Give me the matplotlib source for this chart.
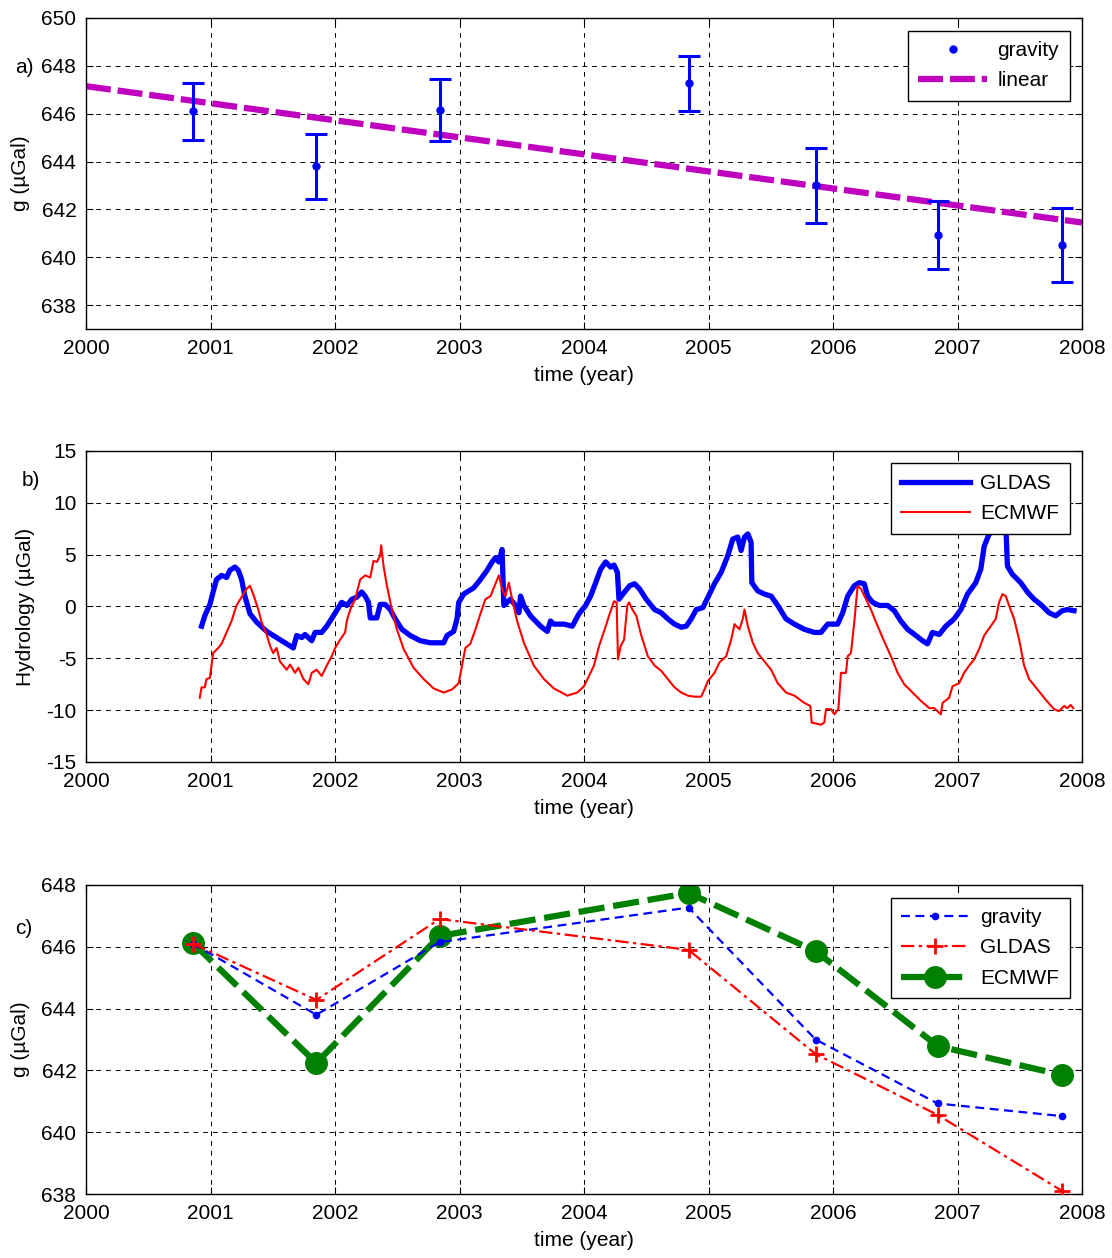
import matplotlib
matplotlib.use("Agg")
import matplotlib.pyplot as plt
import numpy as np

plt.rcParams['font.family'] = ['Liberation Sans', 'DejaVu Sans']
plt.rcParams['font.size'] = 15
plt.rcParams['axes.unicode_minus'] = False

# ---------------- data ----------------
survey_years = [2000.86, 2001.85, 2002.84, 2004.84, 2005.86, 2006.84, 2007.84]
gravity = [646.1, 643.8, 646.15, 647.27, 643.0, 640.93, 640.52]
gravity_err = [1.2, 1.35, 1.3, 1.15, 1.55, 1.42, 1.55]

linear_years = [2000.0, 2008.0]
linear_values = [647.15, 641.45]

gldas_corr = [646.1, 644.28, 646.9, 645.9, 642.53, 640.56, 638.1]
ecmwf_corr = [646.12, 642.24, 646.35, 647.74, 645.86, 642.79, 641.85]

gldas_t = [2000.928, 2000.954, 2000.995, 2001.021, 2001.048, 2001.089, 2001.129, 2001.156, 2001.196, 2001.223,
           2001.250, 2001.276, 2001.317, 2001.370, 2001.451, 2001.531, 2001.612, 2001.665, 2001.692, 2001.733,
           2001.759, 2001.813, 2001.840, 2001.893, 2001.934, 2001.987, 2002.028, 2002.054, 2002.095, 2002.135,
           2002.175, 2002.215, 2002.242, 2002.269, 2002.283, 2002.336, 2002.363, 2002.403, 2002.444, 2002.484,
           2002.537, 2002.604, 2002.685, 2002.765, 2002.873, 2002.900, 2002.953, 2002.980, 2002.994, 2003.034,
           2003.114, 2003.168, 2003.222, 2003.262, 2003.289, 2003.316, 2003.342, 2003.356, 2003.383, 2003.409,
           2003.450, 2003.477, 2003.490, 2003.517, 2003.570, 2003.651, 2003.705, 2003.731, 2003.758, 2003.839,
           2003.906, 2003.960, 2004.013, 2004.053, 2004.094, 2004.134, 2004.174, 2004.214, 2004.241, 2004.268,
           2004.281, 2004.326, 2004.366, 2004.406, 2004.446, 2004.500, 2004.567, 2004.620, 2004.674, 2004.727,
           2004.781, 2004.821, 2004.861, 2004.901, 2004.955, 2005.000, 2005.048, 2005.102, 2005.155, 2005.195,
           2005.235, 2005.262, 2005.289, 2005.316, 2005.342, 2005.348, 2005.396, 2005.449, 2005.503, 2005.556,
           2005.623, 2005.690, 2005.770, 2005.850, 2005.904, 2005.957, 2006.037, 2006.078, 2006.118, 2006.171,
           2006.211, 2006.251, 2006.278, 2006.318, 2006.372, 2006.439, 2006.492, 2006.545, 2006.599, 2006.666,
           2006.719, 2006.759, 2006.799, 2006.853, 2006.906, 2006.973, 2007.027, 2007.080, 2007.147, 2007.187,
           2007.214, 2007.254, 2007.294, 2007.340, 2007.390, 2007.401, 2007.441, 2007.508, 2007.561, 2007.615,
           2007.668, 2007.735, 2007.789, 2007.842, 2007.882, 2007.936]
gldas_v = [-1.9, -0.9, 0.2, 1.4, 2.6, 3.0, 2.8, 3.5, 3.8, 3.5,
           2.6, 1.0, -0.7, -1.5, -2.4, -3.0, -3.6, -4.0, -2.8, -3.0,
           -2.7, -3.3, -2.5, -2.5, -1.9, -0.9, -0.1, 0.4, 0.1, 0.7,
           0.9, 1.4, 1.0, 0.4, -1.1, -1.1, 0.2, 0.2, -0.3, -1.2,
           -2.2, -2.8, -3.3, -3.5, -3.5, -2.8, -2.4, -1.2, 0.4, 1.2,
           1.8, 2.6, 3.5, 4.3, 4.7, 4.3, 5.5, 0.1, 0.4, 0.7,
           0.1, -0.6, 1.0, 0.1, -0.9, -1.9, -2.4, -1.4, -1.7, -1.7,
           -1.9, -0.7, 0.1, 1.0, 2.3, 3.6, 4.3, 3.8, 4.0, 3.3,
           0.7, 1.4, 2.0, 2.2, 1.7, 0.7, -0.3, -0.6, -1.2, -1.7,
           -2.0, -1.9, -1.2, -0.3, -0.1, 1.0, 2.2, 3.3, 4.9, 6.5,
           6.7, 5.4, 6.7, 7.0, 6.2, 2.3, 1.5, 1.2, 1.0, 0.1,
           -1.2, -1.7, -2.2, -2.5, -2.5, -1.7, -1.7, -0.6, 1.0, 2.0,
           2.3, 2.2, 1.0, 0.4, 0.1, 0.1, -0.4, -1.4, -2.2, -2.8,
           -3.3, -3.6, -2.5, -2.7, -1.9, -1.2, -0.3, 1.2, 2.3, 3.6,
           5.8, 7.0, 7.3, 7.4, 7.3, 3.9, 3.1, 2.3, 1.4, 0.7,
           0.2, -0.6, -0.9, -0.4, -0.3, -0.4]

ecmwf_t = [2000.914, 2000.928, 2000.954, 2000.968, 2000.995, 2001.021, 2001.062, 2001.089, 2001.129, 2001.169,
           2001.209, 2001.250, 2001.290, 2001.317, 2001.343, 2001.384, 2001.410, 2001.451, 2001.478, 2001.504,
           2001.531, 2001.558, 2001.612, 2001.639, 2001.679, 2001.706, 2001.746, 2001.786, 2001.813, 2001.853,
           2001.893, 2001.934, 2001.974, 2002.001, 2002.041, 2002.081, 2002.095, 2002.122, 2002.162, 2002.202,
           2002.242, 2002.283, 2002.309, 2002.336, 2002.363, 2002.371, 2002.390, 2002.417, 2002.457, 2002.497,
           2002.551, 2002.631, 2002.712, 2002.792, 2002.873, 2002.940, 2002.994, 2003.020, 2003.047, 2003.087,
           2003.128, 2003.168, 2003.208, 2003.249, 2003.289, 2003.316, 2003.342, 2003.369, 2003.396, 2003.423,
           2003.463, 2003.517, 2003.597, 2003.678, 2003.758, 2003.866, 2003.946, 2004.000, 2004.040, 2004.080,
           2004.121, 2004.161, 2004.201, 2004.241, 2004.262, 2004.273, 2004.295, 2004.322, 2004.348, 2004.362,
           2004.389, 2004.420, 2004.460, 2004.513, 2004.567, 2004.620, 2004.674, 2004.727, 2004.781, 2004.834,
           2004.888, 2004.941, 2004.968, 2004.995, 2005.048, 2005.088, 2005.142, 2005.182, 2005.209, 2005.249,
           2005.275, 2005.289, 2005.316, 2005.356, 2005.396, 2005.449, 2005.503, 2005.556, 2005.623, 2005.690,
           2005.770, 2005.818, 2005.829, 2005.904, 2005.930, 2005.944, 2005.984, 2006.011, 2006.043, 2006.064,
           2006.104, 2006.118, 2006.144, 2006.171, 2006.198, 2006.225, 2006.265, 2006.305, 2006.345, 2006.398,
           2006.465, 2006.519, 2006.572, 2006.639, 2006.706, 2006.773, 2006.813, 2006.840, 2006.866, 2006.880,
           2006.933, 2006.960, 2007.013, 2007.053, 2007.094, 2007.134, 2007.174, 2007.214, 2007.267, 2007.307,
           2007.334, 2007.361, 2007.388, 2007.414, 2007.455, 2007.495, 2007.535, 2007.575, 2007.642, 2007.709,
           2007.775, 2007.815, 2007.856, 2007.882, 2007.909, 2007.930]
ecmwf_v = [-8.8, -7.8, -7.8, -7.0, -6.9, -4.5, -4.0, -3.6, -2.5, -1.4,
           0.1, 0.9, 1.7, 2.0, 1.2, -0.3, -1.5, -2.7, -3.8, -4.5,
           -4.0, -5.3, -6.1, -5.6, -6.4, -5.9, -7.0, -7.5, -6.4, -6.1,
           -6.7, -5.7, -4.8, -4.0, -3.2, -2.5, -1.4, -0.3, 0.7, 2.6,
           3.0, 2.8, 4.4, 4.3, 4.9, 5.9, 3.9, 2.0, -0.3, -2.2,
           -4.1, -5.9, -7.0, -7.9, -8.3, -8.0, -7.4, -5.7, -4.0, -3.6,
           -2.2, -0.7, 0.7, 1.0, 2.2, 3.0, 1.7, 1.0, 2.3, 0.7,
           -1.4, -3.5, -5.7, -7.0, -7.9, -8.6, -8.3, -7.7, -6.7, -5.7,
           -3.8, -2.4, -0.9, 0.5, 0.4, -5.1, -3.8, -3.2, 0.1, 0.4,
           -0.3, -0.9, -2.8, -4.8, -5.7, -6.2, -7.0, -7.8, -8.3, -8.6,
           -8.7, -8.7, -8.0, -7.2, -6.4, -5.4, -4.8, -3.2, -1.7, -2.2,
           -1.2, -0.3, -1.9, -3.5, -4.5, -5.3, -6.1, -7.4, -8.3, -8.6,
           -9.3, -9.6, -11.2, -11.4, -11.2, -9.9, -9.9, -10.4, -9.9, -6.4,
           -6.4, -4.8, -4.5, -1.5, 2.0, 1.7, 0.7, -0.3, -1.5, -3.0,
           -4.8, -6.4, -7.5, -8.3, -9.1, -9.8, -9.8, -10.1, -10.4, -9.3,
           -8.8, -7.7, -7.4, -6.4, -5.7, -5.1, -4.1, -2.8, -1.9, -1.2,
           0.4, 1.2, 1.0, 0.1, -1.2, -3.2, -5.7, -7.0, -8.0, -9.0,
           -9.9, -10.1, -9.6, -9.8, -9.5, -9.8]

year_ticks = [2000, 2001, 2002, 2003, 2004, 2005, 2006, 2007, 2008]

# ---------------- figure ----------------
W, H = 1112, 1258
FS = 15
fig = plt.figure(figsize=(W / 100, H / 100), dpi=100)

def ax_rect(top, bottom, left=86, right=1082):
    return [left / W, 1 - bottom / H, (right - left) / W, (bottom - top) / H]

def style(ax):
    ax.set_xlim(2000, 2008)
    ax.set_xticks(year_ticks)
    ax.grid(True, color='black', linestyle=(0, (5, 5)), linewidth=0.7)
    ax.tick_params(direction='in', top=True, right=True, length=5, width=0.8,
                   labelsize=FS, pad=7)
    for s in ax.spines.values():
        s.set_linewidth(1.0)
    ax.set_xlabel('time (year)', fontsize=FS, labelpad=6)

def legend(ax, **kw):
    lg = ax.legend(loc='upper right', fancybox=False, framealpha=1, edgecolor='black',
                   fontsize=FS, borderaxespad=0.6, labelspacing=0.55, borderpad=0.5,
                   handletextpad=0.5, **kw)
    lg.get_frame().set_linewidth(1.0)
    return lg

# ---- panel a ----
ax1 = fig.add_axes(ax_rect(18, 329))
ax1.errorbar(survey_years, gravity, yerr=gravity_err, fmt='none', ecolor='#0000ff',
             elinewidth=2.2, capsize=8, capthick=2.2, zorder=3)
ax1.plot(survey_years, gravity, '.', color='#0000ff', markersize=10, label='gravity', zorder=4)
ax1.plot(linear_years, linear_values, color='#bf00bf', linewidth=4.5,
         linestyle=(0, (4, 1.1)), label='linear', zorder=2)
ax1.set_ylim(637, 650)
ax1.set_yticks([638, 640, 642, 644, 646, 648, 650])
style(ax1)
ax1.set_ylabel('g (\u00b5Gal)', fontsize=FS)
ax1.yaxis.set_label_coords(-0.056, 0.5)
legend(ax1, handlelength=3.3)
ax1.text(-0.062, 0.842, 'a)', transform=ax1.transAxes, ha='center', va='center', fontsize=FS)

# ---- panel b ----
ax2 = fig.add_axes(ax_rect(451, 762))
ax2.plot(gldas_t, gldas_v, color='#0000ff', linewidth=3.8, label='GLDAS',
         solid_joinstyle='round')
ax2.plot(ecmwf_t, ecmwf_v, color='#ff0000', linewidth=1.5, label='ECMWF')
ax2.set_ylim(-15, 15)
ax2.set_yticks([-15, -10, -5, 0, 5, 10, 15])
style(ax2)
ax2.set_ylabel('Hydrology (\u00b5Gal)', fontsize=FS)
ax2.yaxis.set_label_coords(-0.051, 0.5)
legend(ax2, handlelength=3.3)
ax2.text(-0.055, 0.904, 'b)', transform=ax2.transAxes, ha='center', va='center', fontsize=FS)

# ---- panel c ----
ax3 = fig.add_axes(ax_rect(885, 1194))
ax3.plot(survey_years, gravity, color='#0000ff', linestyle=(0, (4, 2.5)), linewidth=1.6,
         marker='.', markersize=9, label='gravity', zorder=3)
ax3.plot(survey_years, gldas_corr, color='#ff0000', linestyle=(0, (6, 2, 1.5, 2)), linewidth=1.6,
         marker='+', markersize=11, markeredgewidth=2, label='GLDAS', zorder=3)
ax3.plot(survey_years, ecmwf_corr, color='#008000', linestyle=(0, (4.2, 1.4)), linewidth=4.5,
         marker='o', markersize=15.5, label='ECMWF', zorder=2)
ax3.set_ylim(638, 648)
ax3.set_yticks([638, 640, 642, 644, 646, 648])
style(ax3)
ax3.set_ylabel('g (\u00b5Gal)', fontsize=FS)
ax3.yaxis.set_label_coords(-0.056, 0.5)
legend(ax3, handlelength=3.3)
ax3.text(-0.062, 0.858, 'c)', transform=ax3.transAxes, ha='center', va='center', fontsize=FS)

fig.savefig('out.png', dpi=100)
